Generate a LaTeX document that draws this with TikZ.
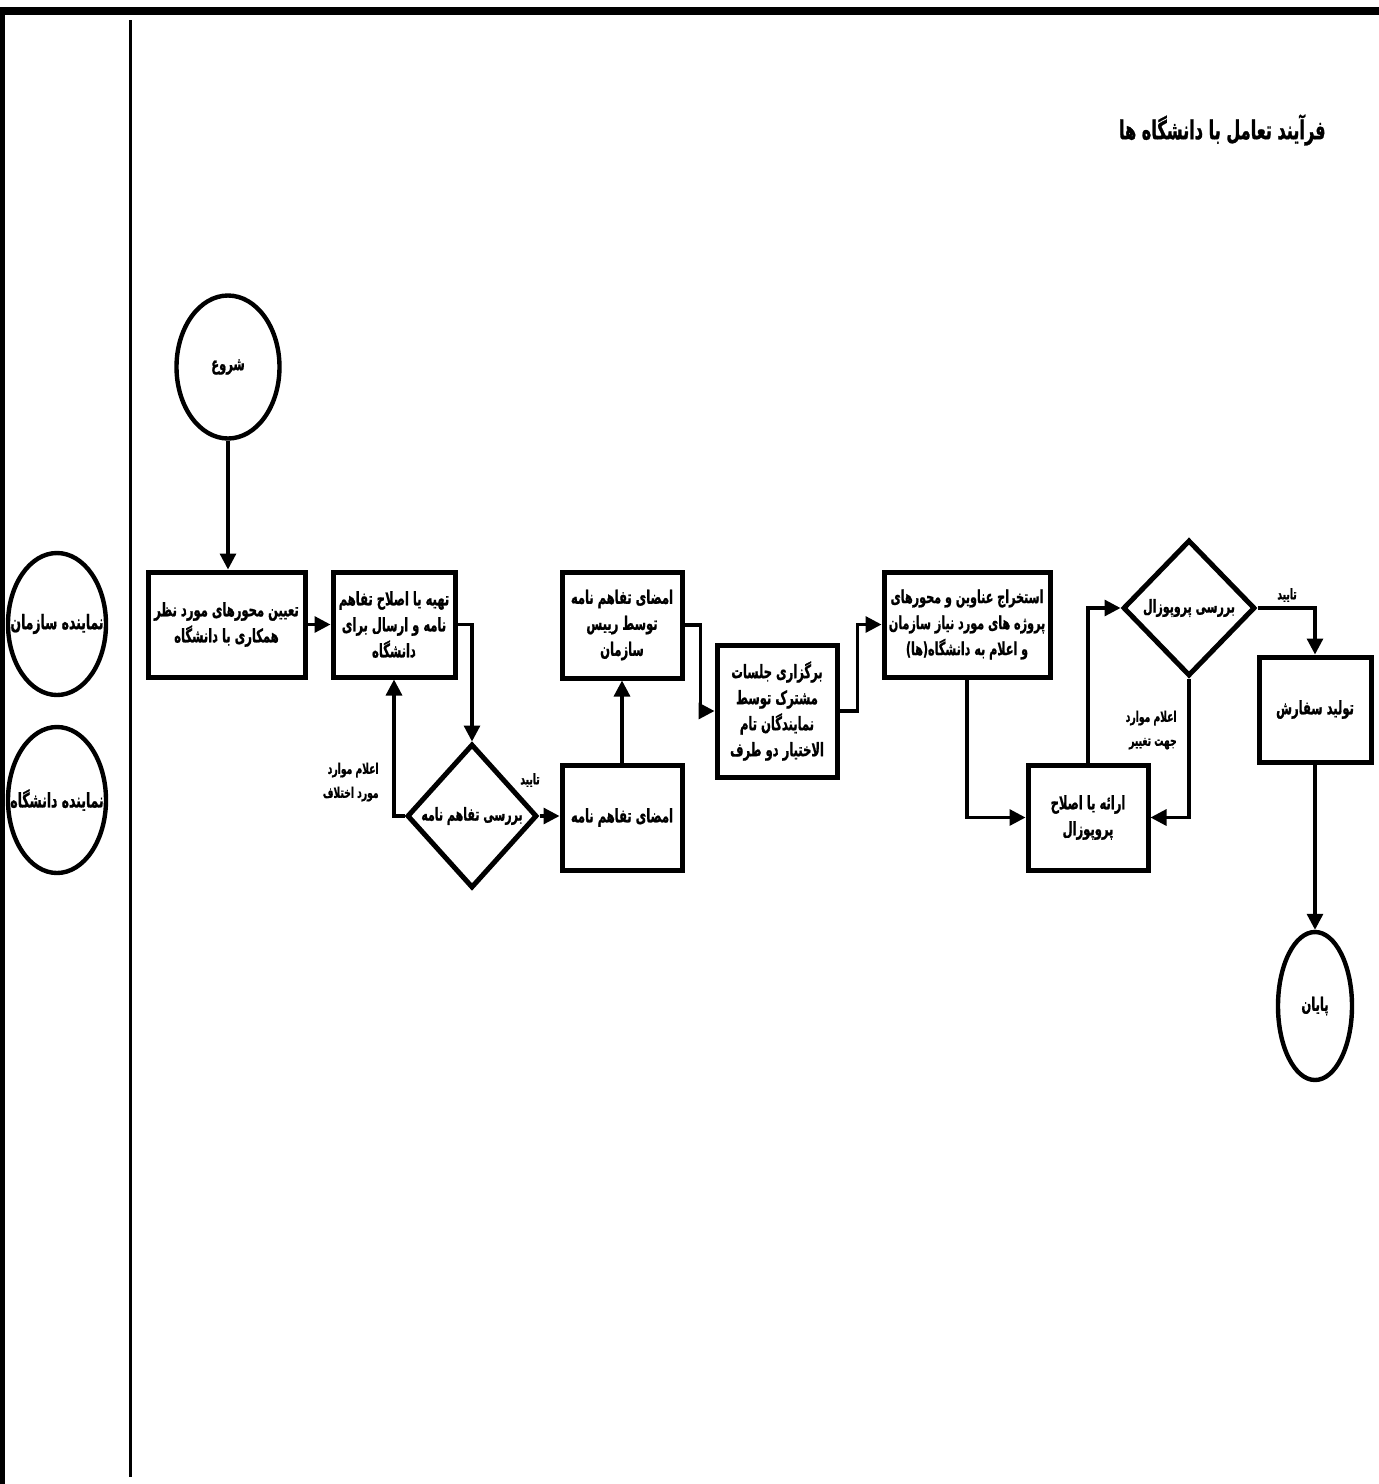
\documentclass[tikz,border=0pt]{standalone}
\usepackage{fontspec}
\usetikzlibrary{shapes.geometric,arrows.meta}
\TeXXeTstate=1
\newfontfamily\ar[Script=Arabic,FakeStretch=0.62,FakeBold=1]{DejaVu Sans Bold}
\newcommand{\R}[1]{\beginR #1\endR}
\begin{document}
\begin{tikzpicture}[x=0.5pt,y=-0.5pt,
  box/.style={draw,line width=2.5pt,rectangle,inner sep=0pt,minimum height=52.5pt,align=center,font=\ar\fontsize{9.3}{13}\selectfont},
  dia/.style={draw,line width=2.5pt,diamond,inner sep=0pt,minimum width=65pt,minimum height=72pt},
  oval/.style={draw,line width=2.2pt,ellipse,inner sep=0pt},
  txt/.style={inner sep=0pt,align=center,font=\ar\fontsize{9.3}{13}\selectfont},
  dtxt/.style={inner sep=0pt,align=center,font=\ar\fontsize{8.9}{13}\selectfont},
  lbl/.style={inner sep=0pt,align=right,font=\ar\fontsize{7.4}{12}\selectfont},
  con/.style={line width=1.6pt,-{Triangle[length=8pt,width=8pt]}}
]
\useasboundingbox (0,0) rectangle (1379,1484);
\fill (0,7) rectangle (1379,15);
\fill (0,7) rectangle (5,1484);
\draw[line width=1.5pt] (130,20) coordinate (vt) -- (130,1477) coordinate (vb);

\node[txt,anchor=east,font=\ar\fontsize{13}{15}\selectfont] (title) at (1326,130) {\R{فرآیند تعامل با دانشگاه ها}};

% lanes
\node[oval,minimum width=49pt,minimum height=71pt] (lane1) at (57,624) {};
\node[txt,font=\ar\fontsize{10}{12}\selectfont] (lane1t) at (lane1) {\R{نماینده سازمان}};
\node[oval,minimum width=49pt,minimum height=73pt] (lane2) at (57,800) {};
\node[txt,font=\ar\fontsize{10}{12}\selectfont] (lane2t) at (lane2) {\R{نماینده دانشگاه}};

% start / end
\node[oval,minimum width=51.5pt,minimum height=71.5pt] (start) at (228,367) {};
\node[txt] (startt) at (start) {\R{شروع}};
\node[oval,minimum width=37pt,minimum height=74pt] (end) at (1315,1006) {};
\node[txt] (endt) at (end) {\R{پایان}};

% boxes
\node[box,minimum width=78.5pt] (b1) at (226.5,624.5) {\R{تعیین محورهای مورد نظر}\\\R{همکاری با دانشگاه}};
\node[box,minimum width=61pt] (b2) at (394,624.5) {\R{تهیه یا اصلاح تفاهم}\\\R{نامه و ارسال برای}\\\R{دانشگاه}};
\node[box,minimum width=60pt] (b3) at (622,817.5) {\R{امضای تفاهم نامه}};
\node[box,minimum width=60pt,minimum height=53pt] (b4) at (622,625) {\R{امضای تفاهم نامه}\\\R{توسط رییس}\\\R{سازمان}};
\node[box,minimum width=60pt,minimum height=66pt] (b5) at (777,711) {\R{برگزاری جلسات}\\\R{مشترک توسط}\\\R{نمایندگان تام}\\\R{الاختیار دو طرف}};
\node[box,minimum width=83pt,font=\ar\fontsize{9}{13}\selectfont] (b6) at (967,624.5) {\R{استخراج عناوین و محورهای}\\\R{پروژه های مورد نیاز سازمان}\\\R{و اعلام به دانشگاه(ها)}};
\node[box,minimum width=60pt] (b7) at (1088,817.5) {\R{ارائه یا اصلاح}\\\R{پروپوزال}};
\node[box,minimum width=56pt] (b8) at (1315,709.5) {\R{تولید سفارش}};

% diamonds
\node[dia] (d1) at (472,816) {};
\node[dtxt] (d1t) at (d1) {\R{بررسی تفاهم نامه}};
\node[dia,minimum width=66pt,minimum height=68pt] (d2) at (1189,608) {};
\node[dtxt] (d2t) at (d2) {\R{بررسی پروپوزال}};

% labels
\node[lbl,anchor=east] (l1) at (379,782) {\R{اعلام موارد}\\\R{مورد اختلاف}};
\node[lbl] (l2) at (530,780) {\R{تایید}};
\node[lbl] (l3) at (1287,595) {\R{تایید}};
\node[lbl,anchor=east] (l4) at (1177,730) {\R{اعلام موارد}\\\R{جهت تغییر}};

% connectors
\draw[con] (start.south) -- (start.south |- b1.north);
\draw[con] (b1) -- (b2);
\draw[con] (b2.east) -| (d1.north);
\draw[con] (d1.west) -| (b2.south);
\draw[con] (d1.east) -- (d1.east -| b3.west);
\draw[con] (b3.north) -- (b4.south);
\draw[con] (b4.east) -- ++(16,0) |- (b5.west);
\draw[con] (b5.east) -- ++(18,0) |- (b6.west);
\draw[con] (b6.south) |- (b7.west);
\draw[con] (b7.north) |- (d2.west);
\draw[con] (d2.east) -| (b8.north);
\draw[con] (d2.south) |- (b7.east);
\draw[con] (b8.south) -- (end.north);
\end{tikzpicture}
\end{document}
